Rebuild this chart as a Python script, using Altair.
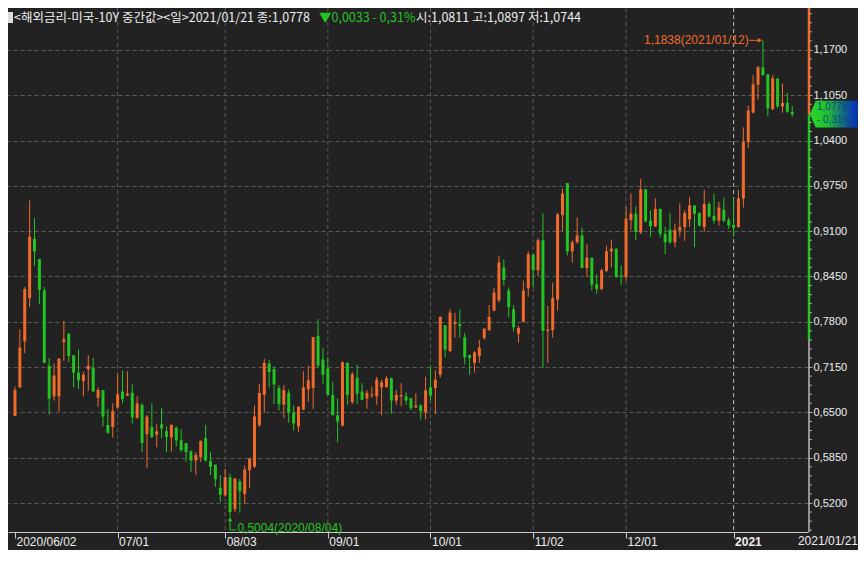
import altair as alt
import pandas as pd

# ---------------- data ----------------
OPEN = [0.645, 0.686, 0.752, 0.814, 0.899, 0.870, 0.825, 0.717, 0.673, 0.673,
        0.751, 0.763, 0.732, 0.707, 0.695, 0.712, 0.714, 0.671, 0.682, 0.632,
        0.629, 0.657, 0.680, 0.674, 0.678, 0.642, 0.661, 0.619, 0.629, 0.618,
        0.633, 0.623, 0.614, 0.628, 0.610, 0.606, 0.594, 0.581, 0.586, 0.613,
        0.580, 0.575, 0.542, 0.531, 0.557, 0.511, 0.551, 0.533, 0.567, 0.572,
        0.632, 0.675, 0.720, 0.712, 0.685, 0.661, 0.678, 0.650, 0.630, 0.654,
        0.683, 0.685, 0.760, 0.726, 0.713, 0.675, 0.646, 0.631, 0.721, 0.665,
        0.700, 0.680, 0.670, 0.674, 0.673, 0.686, 0.686, 0.699, 0.667, 0.673,
        0.673, 0.670, 0.657, 0.660, 0.650, 0.686, 0.685, 0.704, 0.775, 0.738,
        0.777, 0.777, 0.758, 0.732, 0.721, 0.731, 0.757, 0.768, 0.796, 0.811,
        0.858, 0.825, 0.798, 0.763, 0.780, 0.828, 0.876, 0.854, 0.897, 0.767,
        0.768, 0.812, 0.933, 0.979, 0.881, 0.894, 0.904, 0.857, 0.872, 0.834,
        0.827, 0.853, 0.881, 0.885, 0.846, 0.844, 0.926, 0.935, 0.908, 0.970,
        0.925, 0.917, 0.942, 0.906, 0.912, 0.894, 0.911, 0.916, 0.927, 0.947,
        0.936, 0.916, 0.949, 0.932, 0.925, 0.941, 0.926, 0.919, 0.916, 0.957,
        1.038, 1.080, 1.120, 1.145, 1.135, 1.085, 1.129, 1.089, 1.094, 1.0811]
HIGH = [0.687, 0.769, 0.830, 0.954, 0.929, 0.870, 0.830, 0.728, 0.720, 0.728,
        0.781, 0.763, 0.732, 0.740, 0.708, 0.732, 0.728, 0.686, 0.682, 0.655,
        0.663, 0.704, 0.710, 0.709, 0.690, 0.673, 0.663, 0.646, 0.663, 0.633,
        0.656, 0.630, 0.633, 0.630, 0.626, 0.606, 0.596, 0.593, 0.610, 0.632,
        0.593, 0.575, 0.560, 0.569, 0.562, 0.556, 0.555, 0.574, 0.585, 0.660,
        0.691, 0.727, 0.725, 0.716, 0.689, 0.689, 0.683, 0.660, 0.659, 0.709,
        0.717, 0.758, 0.784, 0.742, 0.729, 0.694, 0.670, 0.723, 0.722, 0.708,
        0.718, 0.692, 0.682, 0.687, 0.701, 0.697, 0.702, 0.700, 0.682, 0.692,
        0.679, 0.671, 0.677, 0.662, 0.701, 0.717, 0.710, 0.788, 0.775, 0.798,
        0.793, 0.798, 0.764, 0.733, 0.738, 0.754, 0.771, 0.804, 0.829, 0.875,
        0.869, 0.829, 0.804, 0.774, 0.839, 0.881, 0.878, 0.900, 0.936, 0.803,
        0.836, 0.936, 0.971, 0.979, 0.897, 0.930, 0.915, 0.891, 0.872, 0.848,
        0.856, 0.889, 0.898, 0.885, 0.861, 0.945, 0.964, 0.946, 0.985, 0.970,
        0.940, 0.957, 0.942, 0.916, 0.936, 0.921, 0.950, 0.940, 0.959, 0.947,
        0.937, 0.969, 0.952, 0.964, 0.952, 0.958, 0.930, 0.957, 0.969, 1.059,
        1.090, 1.134, 1.147, 1.1838, 1.135, 1.134, 1.129, 1.122, 1.108, 1.0897]
LOW = [0.645, 0.685, 0.735, 0.801, 0.860, 0.805, 0.721, 0.647, 0.667, 0.651,
       0.724, 0.722, 0.686, 0.684, 0.673, 0.681, 0.679, 0.658, 0.630, 0.619,
       0.614, 0.656, 0.663, 0.673, 0.634, 0.641, 0.593, 0.570, 0.613, 0.600,
       0.613, 0.593, 0.594, 0.601, 0.593, 0.579, 0.565, 0.560, 0.579, 0.579,
       0.560, 0.543, 0.521, 0.529, 0.5004, 0.507, 0.506, 0.518, 0.541, 0.570,
       0.629, 0.650, 0.686, 0.662, 0.653, 0.642, 0.635, 0.624, 0.622, 0.653,
       0.665, 0.655, 0.713, 0.691, 0.675, 0.646, 0.607, 0.630, 0.661, 0.662,
       0.662, 0.667, 0.655, 0.671, 0.661, 0.646, 0.686, 0.648, 0.661, 0.659,
       0.661, 0.653, 0.657, 0.640, 0.640, 0.667, 0.648, 0.700, 0.729, 0.736,
       0.757, 0.757, 0.719, 0.704, 0.707, 0.721, 0.754, 0.767, 0.795, 0.808,
       0.832, 0.786, 0.766, 0.750, 0.779, 0.816, 0.829, 0.846, 0.714, 0.721,
       0.757, 0.796, 0.910, 0.875, 0.865, 0.892, 0.857, 0.844, 0.825, 0.820,
       0.825, 0.851, 0.858, 0.843, 0.833, 0.839, 0.912, 0.897, 0.906, 0.923,
       0.902, 0.916, 0.901, 0.877, 0.892, 0.887, 0.902, 0.896, 0.916, 0.887,
       0.917, 0.909, 0.930, 0.921, 0.918, 0.923, 0.913, 0.902, 0.915, 0.944,
       1.029, 1.079, 1.099, 1.133, 1.075, 1.084, 1.086, 1.080, 1.080, 1.0744]
CLOSE = [0.682, 0.743, 0.827, 0.902, 0.881, 0.826, 0.721, 0.670, 0.703, 0.727,
         0.755, 0.731, 0.707, 0.696, 0.704, 0.717, 0.680, 0.682, 0.644, 0.621,
         0.652, 0.676, 0.669, 0.677, 0.643, 0.663, 0.606, 0.644, 0.615, 0.623,
         0.627, 0.615, 0.632, 0.610, 0.596, 0.593, 0.581, 0.589, 0.609, 0.581,
         0.572, 0.554, 0.532, 0.557, 0.507, 0.555, 0.537, 0.568, 0.584, 0.644,
         0.678, 0.721, 0.708, 0.690, 0.662, 0.682, 0.650, 0.634, 0.658, 0.686,
         0.696, 0.758, 0.717, 0.704, 0.675, 0.646, 0.637, 0.722, 0.675, 0.705,
         0.677, 0.668, 0.678, 0.675, 0.697, 0.693, 0.699, 0.667, 0.675, 0.675,
         0.667, 0.656, 0.660, 0.652, 0.682, 0.674, 0.697, 0.787, 0.740, 0.793,
         0.780, 0.774, 0.729, 0.728, 0.736, 0.743, 0.770, 0.787, 0.822, 0.865,
         0.840, 0.801, 0.772, 0.771, 0.825, 0.877, 0.854, 0.897, 0.767, 0.769,
         0.814, 0.934, 0.964, 0.881, 0.894, 0.904, 0.857, 0.872, 0.833, 0.827,
         0.854, 0.881, 0.885, 0.844, 0.845, 0.928, 0.935, 0.909, 0.970, 0.924,
         0.917, 0.942, 0.906, 0.894, 0.894, 0.912, 0.916, 0.936, 0.947, 0.935,
         0.918, 0.949, 0.931, 0.925, 0.944, 0.925, 0.918, 0.915, 0.957, 1.038,
         1.083, 1.121, 1.145, 1.134, 1.086, 1.129, 1.089, 1.094, 1.0811, 1.0778]

TICK_IDX = [0, 21, 43, 64, 85, 106, 125, 147]
TICK_LABELS = ["2020/06/02", "07/01", "08/03", "09/01", "10/01", "11/02", "12/01", "2021"]
GRID_MONTH_IDX = [21, 43, 64, 85, 106, 125]
GRID_YEAR_IDX = [147]
Y_TICKS = [0.52, 0.585, 0.65, 0.715, 0.78, 0.845, 0.91, 0.975, 1.04, 1.105, 1.17]
MINOR_STEP = 0.013

LAST_PRICE = 1.0778
LAST_PCT = "- 0,31%"
RANGE_LOW = 0.754
HI_IDX, HI_VAL, HI_TEXT = 153, 1.1838, "1,1838(2021/01/12)"
LO_IDX, LO_VAL, LO_TEXT = 44, 0.5004, "0,5004(2020/08/04)"

TITLE_WHITE = "<해외금리-미국-10Y 중간값><일>2021/01/21 종:1,0778"
TITLE_GREEN = "▼0,0033  - 0,31%"
TITLE_WHITE2 = "시:1,0811 고:1,0897 저:1,0744"
LAST_DATE = "2021/01/21"

# ---------------- style ----------------
BG = "#222222"
ORANGE = "#f26a2a"
GREEN = "#22c422"
GRID = "#5a5a5a"
TXT = "#eeeeee"
W, H = 800, 524
Y_DOM = [0.4784, 1.2302]
X_DOM = [-0.4, 161.2]

# ---------------- frames ----------------
df = pd.DataFrame({"i": range(len(OPEN)), "o": OPEN, "h": HIGH, "l": LOW, "c": CLOSE})
df["dir"] = ["up" if c >= o else "down" for o, c in zip(df.o, df.c)]
df["top"] = df[["o", "c"]].max(axis=1)
df["bot"] = df[["o", "c"]].min(axis=1)
thin = (df.top - df.bot) < 0.0016
df.loc[thin, "top"] = df.loc[thin, "bot"] + 0.0016

label_expr = " : ".join(f"datum.value == {i} ? '{t}'" for i, t in zip(TICK_IDX, TICK_LABELS)) + " : ''"

X_AXIS = alt.Axis(values=TICK_IDX, labelExpr=label_expr, labelAlign="left", labelBaseline="top",
                  labelPadding=-2, labelOffset=1, tickSize=6, tickColor="#cccccc", domainColor="#cccccc",
                  labelColor=TXT, labelFontSize=12, labelFont="Liberation Sans",
                  labelFontWeight=alt.condition("datum.value == 147", alt.value("bold"), alt.value("normal")),
                  grid=False, labelOverlap=False, labelFlush=False, labelBound=False, title=None)
Y_AXIS = alt.Axis(orient="right", values=Y_TICKS,
                  labelExpr="replace(format(datum.value, '.4f'), '.', ',')",
                  grid=True, gridColor=GRID, gridDash=[4, 3], gridWidth=1, domain=False,
                  tickSize=4, tickColor="#aaaaaa", labelColor=TXT, labelFontSize=11,
                  labelFont="Liberation Sans", labelPadding=1, labelOverlap=False,
                  labelFlush=False, labelBound=False, title=None)

XS = alt.Scale(domain=X_DOM, nice=False, zero=False)
YS = alt.Scale(domain=Y_DOM, nice=False, zero=False)


def X(f):
    return alt.X(f, scale=XS, axis=X_AXIS, title=None)


def Y(f):
    return alt.Y(f, scale=YS, axis=Y_AXIS, title=None)


color = alt.Color("dir:N", scale=alt.Scale(domain=["up", "down"], range=[ORANGE, GREEN]), legend=None)

base = alt.Chart(df)
wicks = base.mark_rule(strokeWidth=1).encode(x=X("i:Q"), y=Y("l:Q"), y2="h:Q", color=color)
bodies = base.mark_bar(size=3).encode(x=X("i:Q"), y=Y("bot:Q"), y2="top:Q", color=color)

vgrid = alt.Chart(pd.DataFrame({"i": GRID_MONTH_IDX})).mark_rule(
    color=GRID, strokeDash=[4, 3], strokeWidth=1).encode(x=X("i:Q"))
ygrid = alt.Chart(pd.DataFrame({"i": GRID_YEAR_IDX})).mark_rule(
    color="#b8b8b8", strokeDash=[4, 3], strokeWidth=1).encode(x=X("i:Q"))

# right axis line coloured by the price range
seg_o = alt.Chart(pd.DataFrame({"a": [Y_DOM[1]], "b": [LAST_PRICE]})).mark_rule(
    color=ORANGE, strokeWidth=2.5).encode(x=alt.value(W + 1), y=Y("a:Q"), y2="b:Q")
seg_g = alt.Chart(pd.DataFrame({"a": [LAST_PRICE], "b": [RANGE_LOW]})).mark_rule(
    color=GREEN, strokeWidth=2.5).encode(x=alt.value(W + 1), y=Y("a:Q"), y2="b:Q")
seg_w = alt.Chart(pd.DataFrame({"a": [RANGE_LOW], "b": [Y_DOM[0]]})).mark_rule(
    color="#bbbbbb", strokeWidth=1.5).encode(x=alt.value(W + 1), y=Y("a:Q"), y2="b:Q")

minor_vals = []
k = 0
while True:
    v = round(Y_TICKS[0] - 3 * MINOR_STEP + k * MINOR_STEP, 4)
    if v > Y_DOM[1]:
        break
    if v > Y_DOM[0] and all(abs(v - t) > 1e-6 for t in Y_TICKS):
        minor_vals.append(v)
    k += 1
minor = alt.Chart(pd.DataFrame({"v": minor_vals})).mark_rule(color="#aaaaaa", strokeWidth=1).encode(
    x=alt.value(W + 1), x2=alt.value(W + 4), y=Y("v:Q"))

# current price box
box_shape = "M -1 0 L -0.8 -0.47 L 1 -0.47 L 1 0.47 L -0.8 0.47 Z"
grad = alt.Gradient(gradient="linear", x1=0, x2=1, y1=0, y2=0,
                    stops=[alt.GradientStop(color="#2ad82a", offset=0),
                           alt.GradientStop(color="#22c030", offset=0.3),
                           alt.GradientStop(color="#0a3cb0", offset=0.75),
                           alt.GradientStop(color="#082a8a", offset=1)])
box = alt.Chart(pd.DataFrame({"y": [LAST_PRICE]})).mark_point(
    shape=box_shape, size=3249, filled=True, fill=grad, opacity=1, strokeWidth=0).encode(
    x=alt.value(W + 30.5), y=Y("y:Q"))
box_txt = alt.Chart(pd.DataFrame({"y": [LAST_PRICE + 0.0105, LAST_PRICE - 0.0085],
                                  "t": ["1,0778", LAST_PCT]})).mark_text(
    align="left", baseline="middle", font="Liberation Sans", fontSize=10, color="#0c4a7a").encode(
    x=alt.value(W + 9), y=Y("y:Q"), text="t:N")

# high / low annotations
hi_txt = alt.Chart(pd.DataFrame({"x": [HI_IDX - 2.9], "y": [HI_VAL], "t": [HI_TEXT]})).mark_text(
    align="right", baseline="middle", font="Liberation Sans", fontSize=12, color=ORANGE).encode(
    x=X("x:Q"), y=Y("y:Q"), text="t:N")
hi_line = alt.Chart(pd.DataFrame({"x": [HI_IDX - 2.8], "x2": [HI_IDX - 0.4], "y": [HI_VAL]})).mark_rule(
    color=ORANGE, strokeWidth=1).encode(x=X("x:Q"), x2="x2:Q", y=Y("y:Q"))
hi_head = alt.Chart(pd.DataFrame({"x": [HI_IDX - 0.6], "y": [HI_VAL]})).mark_point(
    shape="triangle-right", size=22, filled=True, color=ORANGE, opacity=1).encode(x=X("x:Q"), y=Y("y:Q"))

LO_BASE = LO_VAL - 0.0191
lo_v = alt.Chart(pd.DataFrame({"x": [LO_IDX], "a": [LO_VAL - 0.002], "b": [LO_BASE]})).mark_rule(
    color=GREEN, strokeWidth=1).encode(x=X("x:Q"), y=Y("a:Q"), y2="b:Q")
lo_h = alt.Chart(pd.DataFrame({"x": [LO_IDX], "x2": [LO_IDX + 1.2], "y": [LO_BASE]})).mark_rule(
    color=GREEN, strokeWidth=1).encode(x=X("x:Q"), x2="x2:Q", y=Y("y:Q"))
lo_head = alt.Chart(pd.DataFrame({"x": [LO_IDX], "y": [LO_VAL - 0.0035]})).mark_point(
    shape="triangle-up", size=22, filled=True, color=GREEN, opacity=1).encode(x=X("x:Q"), y=Y("y:Q"))
lo_txt = alt.Chart(pd.DataFrame({"x": [LO_IDX + 1.5], "y": [LO_BASE + 0.003], "t": [LO_TEXT]})).mark_text(
    align="left", baseline="middle", font="Liberation Sans", fontSize=12, color=GREEN).encode(
    x=X("x:Q"), y=Y("y:Q"), text="t:N")

# title line
icon = alt.Chart(pd.DataFrame({"a": [0]})).mark_rect(color="#dddddd").encode(
    x=alt.value(0), x2=alt.value(5), y=alt.value(4), y2=alt.value(15))
t1 = alt.Chart(pd.DataFrame({"t": [TITLE_WHITE]})).mark_text(
    align="left", baseline="middle", font="Noto Sans CJK KR", fontSize=12.5, color=TXT).encode(
    x=alt.value(6), y=alt.value(10), text="t:N")
t2 = alt.Chart(pd.DataFrame({"t": [TITLE_GREEN]})).mark_text(
    align="left", baseline="middle", font="Noto Sans CJK KR", fontSize=12.5, color=GREEN).encode(
    x=alt.value(311), y=alt.value(10), text="t:N")
t3 = alt.Chart(pd.DataFrame({"t": [TITLE_WHITE2]})).mark_text(
    align="left", baseline="middle", font="Noto Sans CJK KR", fontSize=12.5, color=TXT).encode(
    x=alt.value(408), y=alt.value(10), text="t:N")
last_date = alt.Chart(pd.DataFrame({"t": [LAST_DATE]})).mark_text(
    align="right", baseline="top", font="Liberation Sans", fontSize=12, color=TXT).encode(
    x=alt.value(W + 50), y=alt.value(H + 4), text="t:N")

chart = alt.layer(
    vgrid, ygrid, wicks, bodies, hi_line, hi_head, hi_txt, lo_v, lo_h, lo_head, lo_txt,
    seg_o, seg_g, seg_w, minor, box, box_txt, icon, t1, t2, t3, last_date
).properties(
    width=W, height=H,
    padding={"left": 0, "top": 0, "right": 50, "bottom": 18},
    autosize=alt.AutoSizeParams(type="none"),
    background=BG,
).configure_view(stroke=None)

chart.save("out.html", embed_options={"renderer": "svg", "actions": False})
